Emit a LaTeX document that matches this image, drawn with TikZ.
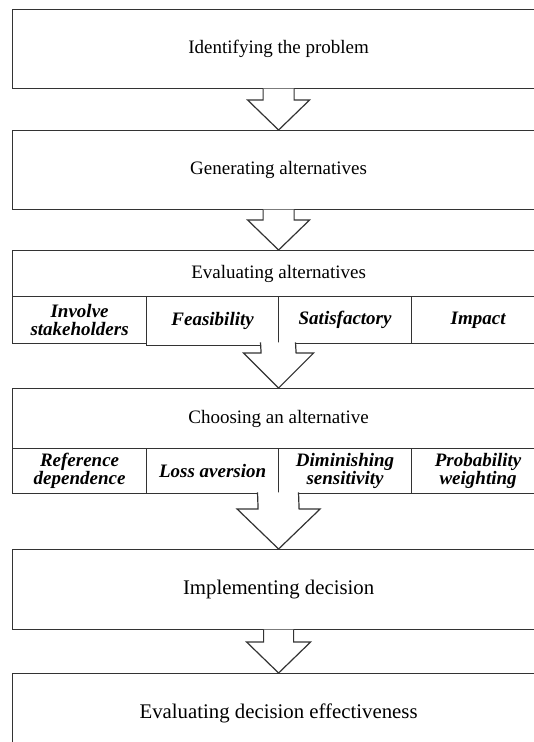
\documentclass[tikz,border=0pt]{standalone}
\usepackage{fontspec}
\setmainfont{Liberation Serif}
\usetikzlibrary{calc}

% block arrow: start point, target node, half shaft width, half head width, head height
\newcommand\flowarrow[5]{%
  \path[frame, fill=white]
    ($(#1)+(-#3,-0.7)$) -- ($(#2.north)+(-#3,-#5)$) -- ($(#2.north)+(-#4,-#5)$)
    -- (#2.north)
    -- ($(#2.north)+(#4,-#5)$) -- ($(#2.north)+(#3,-#5)$) -- ($(#1)+(#3,-0.7)$);}

\begin{document}
\begin{tikzpicture}[x=1pt, y=-1pt,
  frame/.style={draw=black!80, line width=1.2pt},
  stage/.style={frame, anchor=north west, minimum width=532pt, inner sep=0pt,
    font=\fontsize{19}{22}\selectfont},
  bigstage/.style={stage, font=\fontsize{20.8}{24}\selectfont},
  cell/.style={frame, anchor=north west, inner sep=0pt, align=center,
    font=\fontsize{19}{18}\selectfont\bfseries\itshape}]

\useasboundingbox (0,0) rectangle (534,742);
\clip (0,0) rectangle (534,742);

% stage 1 and 2
\node[stage, minimum height=79pt] (s1) at (12,9) {Identifying the problem};
\node[stage, minimum height=79pt] (s2) at (12,130) {Generating alternatives};

% stage 3 with its criteria row
\node[stage, minimum height=46pt] (s3) at (12,250) {Evaluating alternatives};
\node[cell, minimum width=134pt, minimum height=47pt] (c31) at (12,296) {Involve\\stakeholders};
\node[cell, minimum width=133pt, minimum height=47pt] (c33) at (278,296) {Satisfactory};
\node[cell, minimum width=133pt, minimum height=47pt] (c34) at (411,296) {Impact};
\node[cell, minimum width=132pt, minimum height=49pt, fill=white] (c32) at (146,296) {Feasibility};
\coordinate (r3) at (278,343);

% stage 4 with its prospect theory row
\node[stage, minimum height=60pt] (s4) at (12,388) {Choosing an alternative};
\node[cell, minimum width=134pt, minimum height=45pt] (c41) at (12,448) {Reference\\dependence};
\node[cell, minimum width=132pt, minimum height=45pt] (c42) at (146,448) {Loss aversion};
\node[cell, minimum width=133pt, minimum height=45pt] (c43) at (278,448) {Diminishing\\sensitivity};
\node[cell, minimum width=133pt, minimum height=45pt] (c44) at (411,448) {Probability\\weighting};
\coordinate (r4) at (278,493);

% stage 5 and 6
\node[bigstage, minimum height=80pt] (s5) at (12,549) {Implementing decision};
\node[bigstage, minimum height=80pt] (s6) at (12,673) {Evaluating decision effectiveness};

% arrows between stages
\flowarrow{s1.south}{s2}{15.5}{31}{30}
\flowarrow{s2.south}{s3}{15.5}{31}{30}
\flowarrow{r3}{s4}{17.5}{35}{35}
\flowarrow{r4}{s5}{20.5}{41.5}{40}
\flowarrow{s5.south}{s6}{15}{32}{31}

\end{tikzpicture}
\end{document}
